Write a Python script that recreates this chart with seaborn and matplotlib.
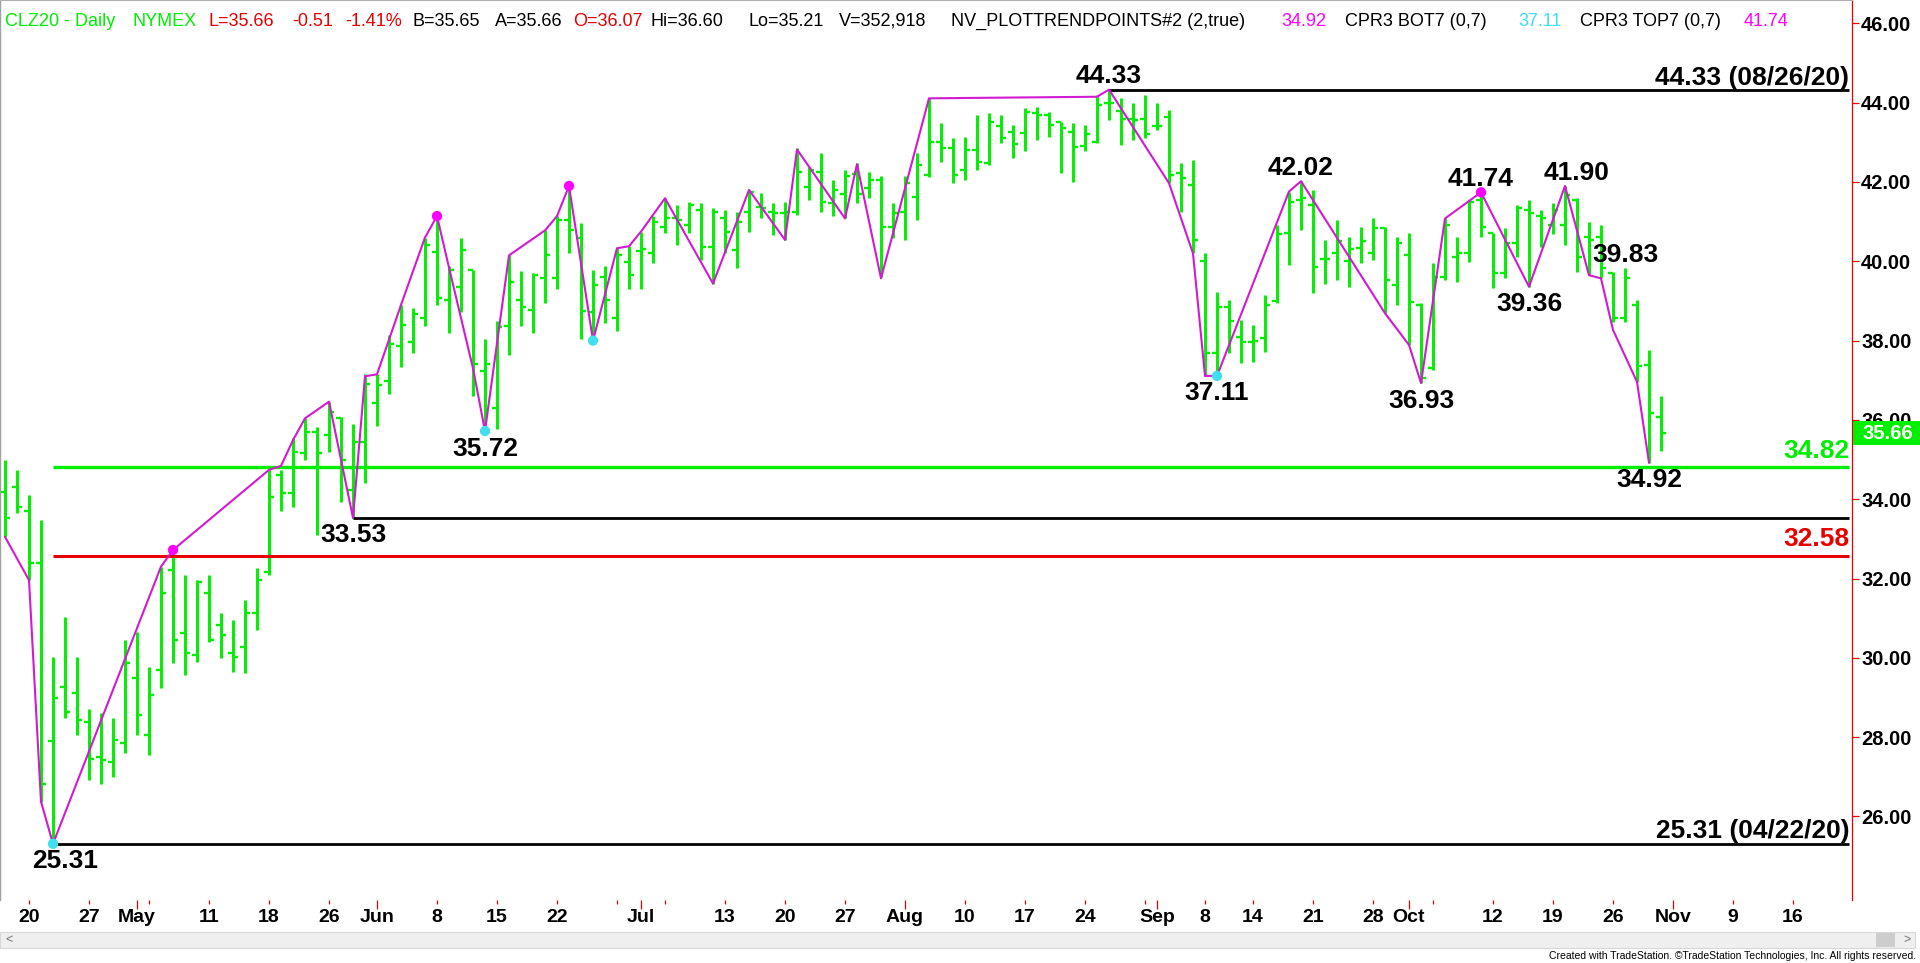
import numpy as np
import pandas as pd
import seaborn as sns
import matplotlib.pyplot as plt
import matplotlib.transforms as mtransforms
from matplotlib.patches import Rectangle

# ---------- data ----------
holidays = ["2020-05-25", "2020-07-03", "2020-09-07"]
calendar = pd.bdate_range("2020-04-16", "2020-11-24").drop(pd.to_datetime(holidays))

opens = [34.19, 34.30, 33.70, 32.40, 27.90, 29.27, 29.10, 28.39, 27.50, 27.38,
         27.84, 29.48, 28.05, 29.69, 32.21, 30.62, 30.07, 31.63, 30.83, 30.11,
         30.28, 31.12, 32.17, 34.61, 34.15, 35.16, 35.70, 35.62, 36.04, 34.24,
         35.45, 36.43, 36.97, 37.87, 37.96, 38.58, 40.24, 39.03, 39.34, 39.79,
         37.24, 36.30, 38.36, 39.03, 38.76, 39.57, 39.57, 41.05, 40.60, 38.72,
         39.61, 38.58, 39.97, 40.25, 40.20, 40.87, 41.08, 40.92, 41.30, 40.37,
         41.10, 40.28, 41.25, 41.38, 41.25, 41.21, 41.25, 41.88, 42.26, 41.46,
         41.70, 42.20, 41.84, 42.05, 40.87, 41.25, 41.63, 42.18, 43.02, 42.85,
         42.30, 42.80, 42.47, 43.40, 43.27, 43.23, 43.73, 43.69, 43.52, 43.27,
         42.90, 43.02, 43.98, 43.80, 43.60, 43.60, 43.40, 43.65, 42.22, 41.92,
         40.00, 37.68, 38.85, 38.10, 37.97, 38.06, 39.00, 40.71, 41.55, 41.42,
         40.07, 40.20, 40.00, 40.33, 40.20, 40.83, 39.40, 40.16, 38.90, 37.30,
         39.60, 40.12, 40.20, 41.55, 40.71, 39.70, 40.45, 41.30, 41.13, 40.92,
         40.92, 41.55, 40.62, 40.62, 39.70, 38.56, 38.90, 37.38, 36.07]
highs = [35.00, 34.74, 34.11, 33.47, 30.03, 31.04, 30.03, 28.70, 28.60, 28.47,
         30.45, 30.66, 29.78, 32.30, 32.72, 32.09, 31.96, 32.09, 31.12, 30.95,
         31.47, 32.26, 34.74, 34.74, 35.54, 36.04, 35.83, 36.46, 36.07, 35.89,
         37.15, 37.15, 38.14, 38.90, 38.81, 40.60, 41.14, 39.88, 40.60, 39.79,
         38.05, 38.49, 40.15, 39.75, 39.70, 40.78, 41.14, 41.90, 40.96, 39.79,
         39.88, 40.33, 40.38, 40.75, 41.13, 41.59, 41.42, 41.50, 41.46, 41.34,
         41.29, 41.25, 41.80, 41.71, 41.46, 41.50, 42.85, 42.39, 42.72, 42.05,
         42.30, 42.47, 42.26, 42.14, 41.46, 42.14, 42.72, 44.11, 43.48, 43.10,
         43.14, 43.69, 43.73, 43.69, 43.44, 43.86, 43.90, 43.77, 43.52, 43.48,
         43.44, 44.19, 44.33, 44.11, 43.98, 44.19, 43.98, 43.81, 42.47, 42.55,
         40.20, 39.23, 39.02, 38.52, 38.39, 39.15, 40.91, 41.76, 42.02, 41.80,
         40.54, 41.04, 40.62, 40.87, 41.08, 40.87, 40.62, 40.71, 38.94, 39.95,
         41.08, 40.62, 41.55, 41.74, 40.71, 40.83, 41.42, 41.55, 41.30, 41.46,
         41.90, 41.59, 41.00, 40.91, 39.74, 39.83, 39.02, 37.76, 36.60]
lows = [33.05, 33.64, 31.96, 26.37, 25.31, 28.47, 28.05, 26.92, 26.83, 27.00,
        27.59, 28.05, 27.55, 29.23, 29.86, 29.57, 29.90, 30.41, 29.99, 29.65,
        29.61, 30.70, 32.10, 33.69, 33.81, 34.99, 33.10, 35.20, 33.93, 33.53,
        34.42, 35.85, 36.66, 37.33, 37.69, 38.36, 38.90, 38.18, 38.72, 36.61,
        35.72, 35.76, 37.64, 38.36, 38.18, 38.94, 39.30, 40.20, 38.05, 38.00,
        38.45, 38.23, 39.30, 39.30, 39.95, 40.71, 40.41, 40.71, 40.03, 39.44,
        40.20, 39.82, 40.75, 41.08, 40.66, 40.54, 41.17, 41.55, 41.25, 41.13,
        41.08, 41.46, 41.59, 39.61, 40.58, 40.54, 41.04, 42.13, 42.51, 41.97,
        42.05, 42.30, 42.43, 42.98, 42.60, 42.77, 43.06, 43.14, 42.22, 42.01,
        42.77, 42.98, 43.56, 42.93, 43.06, 43.10, 43.31, 41.97, 41.25, 40.20,
        37.11, 37.11, 37.68, 37.43, 37.47, 37.72, 38.94, 39.91, 40.79, 39.19,
        39.44, 39.53, 39.36, 39.95, 40.03, 38.69, 38.90, 37.89, 36.93, 37.25,
        39.53, 39.49, 39.99, 40.62, 39.32, 39.57, 40.12, 39.36, 40.37, 40.70,
        40.41, 39.74, 39.65, 39.57, 38.48, 38.48, 36.96, 34.92, 35.21]
closes = [33.52, 33.80, 32.40, 26.83, 28.98, 28.64, 28.43, 27.46, 27.42, 27.93,
          29.86, 28.56, 29.06, 31.63, 30.45, 30.11, 31.92, 30.45, 30.57, 30.03,
          31.12, 31.96, 34.06, 34.15, 35.20, 35.70, 35.16, 36.21, 35.00, 35.45,
          36.90, 36.88, 37.91, 38.40, 38.67, 40.42, 39.08, 39.79, 40.29, 37.40,
          37.42, 38.35, 39.48, 38.85, 39.66, 40.15, 41.05, 40.78, 38.75, 39.39,
          39.03, 40.15, 39.66, 40.30, 41.00, 41.08, 41.04, 41.42, 40.37, 41.25,
          40.75, 41.00, 41.75, 41.34, 41.21, 41.25, 42.26, 42.30, 41.50, 41.80,
          42.15, 41.70, 42.05, 40.87, 41.21, 41.97, 42.43, 43.02, 42.87, 42.18,
          42.81, 42.51, 43.52, 43.10, 42.97, 43.77, 43.69, 43.44, 43.35, 42.89,
          43.20, 43.94, 43.98, 43.60, 43.56, 43.20, 43.40, 42.18, 42.09, 40.54,
          37.68, 38.85, 38.50, 37.97, 38.00, 38.90, 40.70, 41.50, 41.60, 39.86,
          40.07, 40.50, 40.30, 40.50, 40.83, 39.53, 40.45, 38.98, 37.05, 39.61,
          40.91, 40.20, 41.50, 40.87, 39.70, 40.45, 41.34, 41.21, 41.08, 41.30,
          41.67, 40.10, 40.54, 39.82, 38.56, 39.57, 37.35, 36.17, 35.66]

# trend-point zigzag (NV_PLOTTRENDPOINTS)
zz_dates = ["2020-04-16", "2020-04-20", "2020-04-21", "2020-04-22", "2020-05-05",
            "2020-05-06", "2020-05-18", "2020-05-19", "2020-05-20", "2020-05-21",
            "2020-05-26", "2020-05-28", "2020-05-29", "2020-06-01", "2020-06-03",
            "2020-06-05", "2020-06-08", "2020-06-09", "2020-06-11", "2020-06-12",
            "2020-06-16", "2020-06-19", "2020-06-22", "2020-06-23", "2020-06-25",
            "2020-06-29", "2020-06-30", "2020-07-01", "2020-07-06", "2020-07-10",
            "2020-07-15", "2020-07-20", "2020-07-21", "2020-07-27", "2020-07-28",
            "2020-07-30", "2020-08-05", "2020-08-25", "2020-08-26", "2020-09-02",
            "2020-09-04", "2020-09-08", "2020-09-09", "2020-09-17", "2020-09-18",
            "2020-09-29", "2020-10-01", "2020-10-02", "2020-10-06", "2020-10-09",
            "2020-10-15", "2020-10-20", "2020-10-22", "2020-10-23", "2020-10-26",
            "2020-10-28", "2020-10-29"]
zz_prices = [33.05, 31.96, 26.37, 25.31, 32.30,
             32.72, 34.74, 34.84, 35.49, 36.04,
             36.46, 33.53, 37.10, 37.15, 38.90,
             40.60, 41.14, 39.84, 37.30, 35.72,
             40.15, 40.78, 41.14, 41.90, 38.00,
             40.33, 40.38, 40.75, 41.59, 39.44,
             41.80, 40.54, 42.82, 41.08, 42.45,
             39.57, 44.11, 44.15, 44.33, 41.97,
             40.20, 37.11, 37.11, 41.76, 42.02,
             38.69, 37.89, 36.93, 41.08, 41.74,
             39.36, 41.90, 39.65, 39.57, 38.27,
             36.96, 34.92]

peak_dates = ["2020-05-06", "2020-06-08", "2020-06-23", "2020-10-09"]
peak_prices = [32.72, 41.14, 41.90, 41.74]
trough_dates = ["2020-04-22", "2020-06-12", "2020-06-25", "2020-09-09"]
trough_prices = [25.31, 35.72, 38.00, 37.11]

label_dates = ["2020-04-23", "2020-05-28", "2020-06-12", "2020-08-26", "2020-09-09", "2020-09-18",
               "2020-10-02", "2020-10-09", "2020-10-15", "2020-10-21", "2020-10-27", "2020-10-29"]
label_values = [25.31, 33.53, 35.72, 44.33, 37.11, 42.02, 36.93, 41.74, 39.36, 41.90, 39.83, 34.92]
label_side = ["low", "low", "low", "high", "low", "high", "low", "high", "low", "high", "high", "low"]

level_values = [44.33, 34.82, 33.53, 32.58, 25.31]
level_starts = ["2020-08-26", "2020-04-22", "2020-05-28", "2020-04-22", "2020-04-22"]
level_texts = ["44.33 (08/26/20)", "34.82", "", "32.58", "25.31 (04/22/20)"]

tick_dates = ["2020-04-20", "2020-04-27", "2020-05-01", "2020-05-04", "2020-05-11", "2020-05-18",
              "2020-05-26", "2020-06-01", "2020-06-08", "2020-06-15", "2020-06-22", "2020-06-29",
              "2020-07-01", "2020-07-06", "2020-07-13", "2020-07-20", "2020-07-27", "2020-08-03",
              "2020-08-10", "2020-08-17", "2020-08-24", "2020-08-31", "2020-09-01", "2020-09-08",
              "2020-09-14", "2020-09-21", "2020-09-28", "2020-10-01", "2020-10-05", "2020-10-12",
              "2020-10-19", "2020-10-26", "2020-11-02", "2020-11-09", "2020-11-16"]
tick_labels = ["20", "27", "May", "", "11", "18",
               "26", "Jun", "8", "15", "22", "",
               "Jul", "", "13", "20", "27", "Aug",
               "10", "17", "24", "", "Sep", "8",
               "14", "21", "28", "Oct", "", "12",
               "19", "26", "Nov", "9", "16"]
month_labels = ["May", "Jun", "Jul", "Aug", "Sep", "Oct", "Nov"]

price_ticks = [26, 28, 30, 32, 34, 36, 38, 40, 42, 44, 46]

# ---------- style ----------
GREEN = "#00ee00"
RED = "#e80000"
MAG_LINE = "#d21ad2"
MAG_DOT = "#ff00ff"
CYAN = "#3fdff0"
BIG = 19

sns.set_theme(style="white")
plt.rcParams["font.family"] = ["Liberation Sans", "DejaVu Sans"]

W, H = 1920, 963
fig = plt.figure(figsize=(W / 100, H / 100), dpi=100, facecolor="white")
ax = fig.add_axes([0, 63 / H, 1852 / W, 900 / H])
ax.set_facecolor("white")


def pos(d):
    if isinstance(d, str):
        return int(calendar.get_loc(pd.Timestamp(d)))
    return calendar.get_indexer(pd.to_datetime(d))


x = np.arange(len(opens))
x_right = 153.917
ax.set_xlim(-0.417, x_right)
ax.set_ylim(23.892, 46.590)

# OHLC bars
ax.vlines(x, lows, highs, color=GREEN, lw=2.1, zorder=2)
ax.hlines(opens, x - 0.38, x, color=GREEN, lw=1.7, zorder=2)
ax.hlines(closes, x, x + 0.38, color=GREEN, lw=1.7, zorder=2)

# horizontal levels
level_styles = [("black", 2.0, 3.5), (GREEN, 2.4, 6.0), ("black", 2.0, 0), (RED, 2.2, 6.5), ("black", 2.0, 4.0)]
ymix = mtransforms.blended_transform_factory(ax.transAxes, ax.transData)
for v, s, t, (c, lw, off) in zip(level_values, level_starts, level_texts, level_styles):
    ax.hlines(v, pos(s), x_right - 0.25, color=c, lw=lw, zorder=3)
    if t:
        ax.annotate(t, xy=(0.9985, v), xycoords=ymix, xytext=(0, off), textcoords="offset points",
                    ha="right", va="baseline", fontsize=BIG, fontweight="bold", color=c, zorder=7)

# zigzag + pivot dots
sns.lineplot(x=pos(zz_dates), y=zz_prices, sort=False, estimator=None,
             color=MAG_LINE, lw=1.5, ax=ax, zorder=4)
sns.scatterplot(x=pos(peak_dates), y=peak_prices, color=MAG_DOT, s=55, edgecolor="none", ax=ax, zorder=5)
sns.scatterplot(x=pos(trough_dates), y=trough_prices, color=CYAN, s=55, edgecolor="none", ax=ax, zorder=5)

for d, v, side in zip(label_dates, label_values, label_side):
    if side == "low":
        ax.annotate(f"{v:.2f}", xy=(pos(d), v), xytext=(0, -4), textcoords="offset points",
                    ha="center", va="top", fontsize=BIG, fontweight="bold", color="black", zorder=7)
    else:
        ax.annotate(f"{v:.2f}", xy=(pos(d), v), xytext=(0, 4.5), textcoords="offset points",
                    ha="center", va="baseline", fontsize=BIG, fontweight="bold", color="black", zorder=7)

# axes look
ax.spines["bottom"].set_visible(False)
ax.spines["left"].set_color("#a0a0a0")
ax.spines["left"].set_linewidth(1.0)
ax.spines["top"].set_color("#b0b0b0")
ax.spines["top"].set_linewidth(0.8)
ax.spines["right"].set_color(RED)
ax.spines["right"].set_linewidth(0.9)

ax.yaxis.tick_right()
ax.set_yticks(price_ticks)
ax.set_yticklabels([f"{p:.2f}" for p in price_ticks])
ax.tick_params(axis="y", which="major", right=True, left=False, length=5, width=0.9,
               color=RED, pad=1.5, labelsize=14.5, labelcolor="black")
for lbl in ax.get_yticklabels():
    lbl.set_fontweight("bold")

tick_pos = pos(tick_dates)
major = [(p, l) for p, l in zip(tick_pos, tick_labels) if l in month_labels]
minor = [(p, l) for p, l in zip(tick_pos, tick_labels) if l not in month_labels]
ax.set_xticks([p for p, _ in major])
ax.set_xticklabels([l for _, l in major])
ax.set_xticks([p for p, _ in minor], minor=True)
ax.set_xticklabels([l for _, l in minor], minor=True)
ax.tick_params(axis="x", which="major", bottom=True, length=6.5, width=0.9, color=RED, pad=0.3,
               labelsize=14, labelcolor="black")
ax.tick_params(axis="x", which="minor", bottom=True, length=3.2, width=0.9, color=RED, pad=3.6,
               labelsize=14, labelcolor="black")
for lbl in ax.get_xticklabels(which="both"):
    lbl.set_fontweight("bold")
ax.grid(False)
ax.set_xlabel("")
ax.set_ylabel("")

# last price box
ax.add_patch(Rectangle((1.0005, closes[-1] - 0.30), 68 / 1852, 0.60, transform=ymix,
                       facecolor=GREEN, edgecolor="none", clip_on=False, zorder=6))
ax.text(1862 / 1852, closes[-1], f"{closes[-1]:.2f}", transform=ymix, ha="left", va="center",
        fontsize=14.5, fontweight="bold", color="white", zorder=7, clip_on=False)

# header line
header = [("CLZ20 - Daily", GREEN, 5), ("NYMEX", GREEN, 132), ("L=35.66", RED, 208),
          ("-0.51", RED, 292), ("-1.41%", RED, 345), ("B=35.65", "black", 413),
          ("A=35.66", "black", 495), ("O=36.07", RED, 573), ("Hi=36.60", "black", 651),
          ("Lo=35.21", "black", 748), ("V=352,918", "black", 839),
          ("NV_PLOTTRENDPOINTS#2 (2,true)", "black", 951), ("34.92", MAG_DOT, 1281),
          ("CPR3 BOT7 (0,7)", "black", 1345), ("37.11", CYAN, 1518),
          ("CPR3 TOP7 (0,7)", "black", 1580), ("41.74", MAG_DOT, 1744)]
for txt, col, px in header:
    fig.text(px / W, 1 - 21 / H, txt, ha="left", va="center", fontsize=13, color=col)

# scroll bar + credit
fig.add_artist(Rectangle((0, 1 - 948 / H), 1915 / W, 16 / H, transform=fig.transFigure,
                         facecolor="#efefef", edgecolor="#d8d8d8", lw=0.8))
fig.add_artist(Rectangle((1876 / W, 1 - 947 / H), 19 / W, 14 / H, transform=fig.transFigure,
                         facecolor="#cdcdcd", edgecolor="none"))
fig.text(9 / W, 1 - 940 / H, "<", ha="center", va="center", fontsize=9, color="#707070")
fig.text(1907 / W, 1 - 940 / H, ">", ha="center", va="center", fontsize=9, color="#707070")
fig.text(1916 / W, 1 - 956 / H,
         "Created with TradeStation. \u00a9TradeStation Technologies, Inc. All rights reserved.",
         ha="right", va="center", fontsize=7.5, color="black")

fig.savefig("out.png", dpi=100)
